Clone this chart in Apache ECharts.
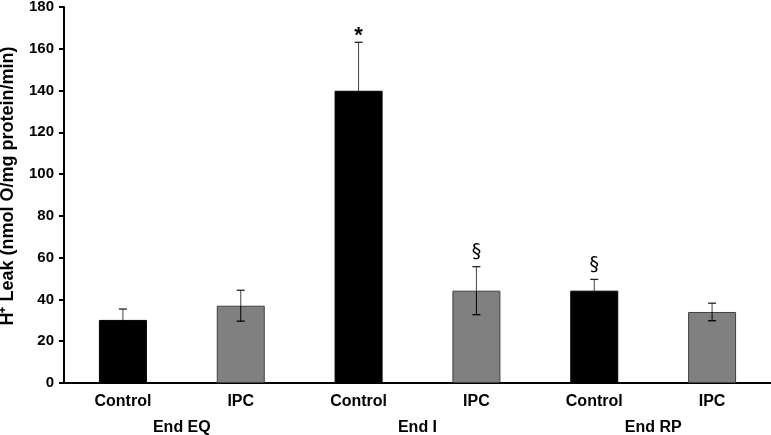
<!DOCTYPE html>
<html>
<head>
<meta charset="utf-8">
<script src="https://cdn.jsdelivr.net/npm/echarts@6/dist/echarts.min.js"></script>
<style>html,body{margin:0;padding:0;background:#fff}#c{width:771px;height:435px}</style>
</head>
<body>
<div id="c"></div>
<script>
var categories = ['Control', 'IPC', 'Control', 'IPC', 'Control', 'IPC'];
var groups = ['End EQ', 'End I', 'End RP'];
var values = [30.2, 37.0, 139.9, 44.2, 44.2, 34.0];
var errors = [5.2, 7.4, 23.2, 11.5, 5.4, 4.2];
var marks = ['', '', '*', '§', '§', ''];
var barColors = ['#000000', '#808080', '#000000', '#808080', '#000000', '#808080'];
var yTicks = [0, 20, 40, 60, 80, 100, 120, 140, 160, 180];

var font = '"Liberation Sans", Arial, sans-serif';
var chart = echarts.init(document.getElementById('c'));

var barData = values.map(function (v, i) {
  return {
    value: v,
    itemStyle: {
      color: barColors[i],
      borderColor: barColors[i] === '#000000' ? '#000000' : '#404040',
      borderWidth: 1
    }
  };
});
var errData = values.map(function (v, i) { return [i, v - errors[i], v + errors[i], v]; });

chart.setOption({
  animation: false,
  grid: { left: 64, right: 0, top: 7, bottom: 52, containLabel: false, outerBoundsMode: 'none' },
  xAxis: [{
    type: 'category',
    data: categories,
    axisLine: { show: true, lineStyle: { color: '#000', width: 2 } },
    axisTick: { show: false },
    axisLabel: { color: '#000', fontFamily: font, fontWeight: 'bold', fontSize: 16, margin: 11 }
  }, {
    type: 'category',
    data: groups,
    position: 'bottom',
    offset: 26,
    axisLine: { show: false },
    axisTick: { show: false },
    axisLabel: { color: '#000', fontFamily: font, fontWeight: 'bold', fontSize: 16, margin: 11 }
  }],
  yAxis: {
    type: 'value',
    min: 0,
    max: 180,
    interval: 20,
    name: 'H\u207A Leak (nmol O/mg protein/min)',
    nameLocation: 'middle',
    nameGap: 47,
    nameTextStyle: { color: '#000', fontFamily: font, fontWeight: 'bold', fontSize: 18, padding: [0, 0, 0, 18] },
    axisLine: { show: true, lineStyle: { color: '#000', width: 2 } },
    axisTick: { show: true, length: 5, lineStyle: { color: '#000', width: 2 } },
    splitLine: { show: false },
    axisLabel: {
      color: '#000', fontFamily: font, fontWeight: 'bold', fontSize: 15, margin: 10,
      formatter: function (v) { return yTicks.indexOf(v) >= 0 ? String(v) : ''; }
    }
  },
  series: [{
    type: 'bar',
    xAxisIndex: 0,
    data: barData,
    barWidth: 48
  }, {
    type: 'custom',
    xAxisIndex: 0,
    data: errData,
    z: 10,
    renderItem: function (params, api) {
      var i = api.value(0);
      var lo = api.coord([i, api.value(1)]);
      var hi = api.coord([i, api.value(2)]);
      var mid = api.coord([i, api.value(3)]);
      var x = hi[0];
      var w = 4;
      var children = [
        { type: 'line', shape: { x1: x, y1: mid[1], x2: x, y2: hi[1] }, style: { stroke: '#444', lineWidth: 1 } },
        { type: 'line', shape: { x1: x, y1: lo[1], x2: x, y2: mid[1] }, style: { stroke: '#000', lineWidth: 1 } },
        { type: 'line', shape: { x1: x - w, y1: hi[1], x2: x + w, y2: hi[1] }, style: { stroke: '#222', lineWidth: 1.3 } },
        { type: 'line', shape: { x1: x - w, y1: lo[1], x2: x + w, y2: lo[1] }, style: { stroke: '#000', lineWidth: 1.3 } }
      ];
      var m = marks[params.dataIndex];
      if (m) {
        var isStar = m === '*';
        children.push({
          type: 'text',
          style: {
            x: x, y: hi[1] + (isStar ? 5 : -5),
            text: m,
            fill: '#000',
            font: isStar ? 'bold 22px ' + font : '19px "DejaVu Sans", sans-serif',
            align: 'center',
            verticalAlign: 'bottom'
          }
        });
      }
      return { type: 'group', children: children };
    }
  }]
});
</script>
</body>
</html>
